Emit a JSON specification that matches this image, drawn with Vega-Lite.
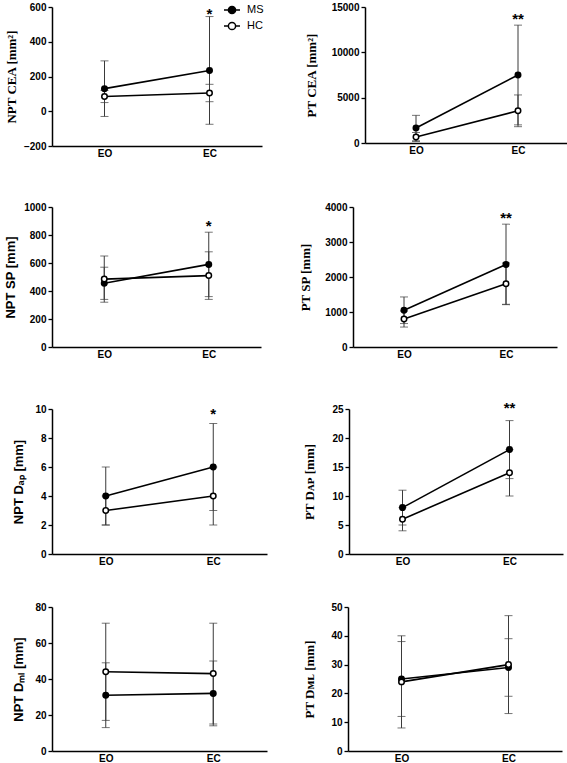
{
  "$schema": "https://vega.github.io/schema/vega-lite/v6.json",
  "background": "white",
  "padding": {"left": 4, "top": 1, "right": 0, "bottom": 0},
  "datasets": {
    "stats": [
      {"panel": "P1", "group": "MS", "cond": "EO", "mean": 130, "lo": -30, "hi": 290},
      {"panel": "P1", "group": "MS", "cond": "EC", "mean": 235, "lo": -75, "hi": 545},
      {"panel": "P1", "group": "HC", "cond": "EO", "mean": 85, "lo": 50, "hi": 120},
      {"panel": "P1", "group": "HC", "cond": "EC", "mean": 105, "lo": 55, "hi": 155},
      {"panel": "P2", "group": "MS", "cond": "EO", "mean": 1650, "lo": 250, "hi": 3050},
      {"panel": "P2", "group": "MS", "cond": "EC", "mean": 7500, "lo": 2000, "hi": 13000},
      {"panel": "P2", "group": "HC", "cond": "EO", "mean": 660, "lo": 160, "hi": 1160},
      {"panel": "P2", "group": "HC", "cond": "EC", "mean": 3550, "lo": 1800, "hi": 5300},
      {"panel": "P3", "group": "MS", "cond": "EO", "mean": 455, "lo": 340, "hi": 570},
      {"panel": "P3", "group": "MS", "cond": "EC", "mean": 590, "lo": 360, "hi": 820},
      {"panel": "P3", "group": "HC", "cond": "EO", "mean": 485, "lo": 320, "hi": 650},
      {"panel": "P3", "group": "HC", "cond": "EC", "mean": 510, "lo": 340, "hi": 680},
      {"panel": "P4", "group": "MS", "cond": "EO", "mean": 1050, "lo": 670, "hi": 1430},
      {"panel": "P4", "group": "MS", "cond": "EC", "mean": 2360, "lo": 1210, "hi": 3510},
      {"panel": "P4", "group": "HC", "cond": "EO", "mean": 800, "lo": 570, "hi": 1030},
      {"panel": "P4", "group": "HC", "cond": "EC", "mean": 1810, "lo": 1220, "hi": 2400},
      {"panel": "P5", "group": "MS", "cond": "EO", "mean": 4, "lo": 2, "hi": 6},
      {"panel": "P5", "group": "MS", "cond": "EC", "mean": 6, "lo": 3, "hi": 9},
      {"panel": "P5", "group": "HC", "cond": "EO", "mean": 3, "lo": 2, "hi": 4},
      {"panel": "P5", "group": "HC", "cond": "EC", "mean": 4, "lo": 2, "hi": 6},
      {"panel": "P6", "group": "MS", "cond": "EO", "mean": 8, "lo": 5, "hi": 11},
      {"panel": "P6", "group": "MS", "cond": "EC", "mean": 18, "lo": 13, "hi": 23},
      {"panel": "P6", "group": "HC", "cond": "EO", "mean": 6, "lo": 4, "hi": 8},
      {"panel": "P6", "group": "HC", "cond": "EC", "mean": 14, "lo": 10, "hi": 18},
      {"panel": "P7", "group": "MS", "cond": "EO", "mean": 31, "lo": 13, "hi": 49},
      {"panel": "P7", "group": "MS", "cond": "EC", "mean": 32, "lo": 14, "hi": 50},
      {"panel": "P7", "group": "HC", "cond": "EO", "mean": 44, "lo": 17, "hi": 71},
      {"panel": "P7", "group": "HC", "cond": "EC", "mean": 43, "lo": 15, "hi": 71},
      {"panel": "P8", "group": "MS", "cond": "EO", "mean": 25, "lo": 12, "hi": 38},
      {"panel": "P8", "group": "MS", "cond": "EC", "mean": 29, "lo": 19, "hi": 39},
      {"panel": "P8", "group": "HC", "cond": "EO", "mean": 24, "lo": 8, "hi": 40},
      {"panel": "P8", "group": "HC", "cond": "EC", "mean": 30, "lo": 13, "hi": 47}
    ],
    "stars": [
      {"panel": "P1", "cond": "EC", "label": "*", "y": 560},
      {"panel": "P2", "cond": "EC", "label": "**", "y": 13640},
      {"panel": "P3", "cond": "EC", "label": "*", "y": 867},
      {"panel": "P4", "cond": "EC", "label": "**", "y": 3675},
      {"panel": "P5", "cond": "EC", "label": "*", "y": 9.63},
      {"panel": "P6", "cond": "EC", "label": "**", "y": 25.23}
    ]
  },
  "columns": 1,
  "align": "none",
  "spacing": 41,
  "resolve": {"scale": {"fill": "independent"}, "legend": {"fill": "independent"}},
  "concat": [
    {
      "columns": 1,
      "align": "none",
      "spacing": 44,
      "resolve": {"scale": {"fill": "independent"}, "legend": {"fill": "independent"}},
      "concat": [
        {
          "hconcat": [
            {
              "width": 210, "height": 139,
              "data": {"name": "stats"},
              "transform": [{"filter": "datum.panel === 'P1'"}],
              "encoding": {"x": {"field": "cond", "type": "nominal", "sort": ["EO", "EC"], "scale": {"type": "point", "padding": 0.5}, "axis": {"title": null}}},
              "layer": [
                {"mark": {"type": "rule", "color": "#3a3a3a", "strokeWidth": 1},
                 "encoding": {"y": {"field": "lo", "type": "quantitative", "title": "NPT CEA [mm²]", "scale": {"domain": [-200, 600], "nice": false}, "axis": {"values": [-200, 0, 200, 400, 600], "labelOverlap": false, "labelSeparation": -60, "titleFont": "Liberation Serif", "titlePadding": 5}}, "y2": {"field": "hi"}}},
                {"mark": {"type": "tick", "color": "#3a3a3a", "thickness": 1, "size": 8, "orient": "horizontal"},
                 "encoding": {"y": {"field": "lo", "type": "quantitative", "title": "NPT CEA [mm²]", "scale": {"domain": [-200, 600], "nice": false}, "axis": {"values": [-200, 0, 200, 400, 600], "labelOverlap": false, "labelSeparation": -60, "titleFont": "Liberation Serif", "titlePadding": 5}}}},
                {"mark": {"type": "tick", "color": "#3a3a3a", "thickness": 1, "size": 8, "orient": "horizontal"},
                 "encoding": {"y": {"field": "hi", "type": "quantitative", "title": "NPT CEA [mm²]", "scale": {"domain": [-200, 600], "nice": false}, "axis": {"values": [-200, 0, 200, 400, 600], "labelOverlap": false, "labelSeparation": -60, "titleFont": "Liberation Serif", "titlePadding": 5}}}},
                {"mark": {"type": "line", "color": "black", "strokeWidth": 1.6},
                 "encoding": {"y": {"field": "mean", "type": "quantitative", "title": "NPT CEA [mm²]", "scale": {"domain": [-200, 600], "nice": false}, "axis": {"values": [-200, 0, 200, 400, 600], "labelOverlap": false, "labelSeparation": -60, "titleFont": "Liberation Serif", "titlePadding": 5}}, "detail": {"field": "group"}}},
                {"mark": {"type": "point", "filled": true, "stroke": "black", "strokeWidth": 1.5, "size": 30, "opacity": 1},
                 "encoding": {"y": {"field": "mean", "type": "quantitative", "title": "NPT CEA [mm²]", "scale": {"domain": [-200, 600], "nice": false}, "axis": {"values": [-200, 0, 200, 400, 600], "labelOverlap": false, "labelSeparation": -60, "titleFont": "Liberation Serif", "titlePadding": 5}},
                   "fill": {"field": "group", "type": "nominal", "scale": {"domain": ["MS", "HC"], "range": ["black", "white"]},
                     "legend": {"orient": "none", "legendX": 171, "legendY": -6, "title": null, "padding": 0, "rowPadding": 0, "labelOffset": 6,
                       "symbolType": "M-1,0H-0.45M0.45,0H1M-0.45,0A0.45,0.45 0 1,1 0.45,0A0.45,0.45 0 1,1 -0.45,0Z",
                       "symbolSize": 256, "symbolStrokeColor": "black", "symbolStrokeWidth": 1.5,
                       "labelFont": "Liberation Sans", "labelFontSize": 11, "labelColor": "black"}}}},
                {"data": {"name": "stars"}, "transform": [{"filter": "datum.panel === 'P1'"}],
                 "mark": {"type": "text", "font": "Liberation Sans", "fontSize": 15, "fontWeight": "bold", "baseline": "middle", "color": "black"},
                 "encoding": {"y": {"field": "y", "type": "quantitative", "title": "NPT CEA [mm²]", "scale": {"domain": [-200, 600], "nice": false}, "axis": {"values": [-200, 0, 200, 400, 600], "labelOverlap": false, "labelSeparation": -60, "titleFont": "Liberation Serif", "titlePadding": 5}}, "text": {"field": "label"}}}
              ]
            },
            {
              "width": 204, "height": 136,
              "data": {"name": "stats"},
              "transform": [{"filter": "datum.panel === 'P2'"}],
              "encoding": {"x": {"field": "cond", "type": "nominal", "sort": ["EO", "EC"], "scale": {"type": "point", "padding": 0.5}, "axis": {"title": null}}},
              "layer": [
                {"mark": {"type": "rule", "color": "#3a3a3a", "strokeWidth": 1},
                 "encoding": {"y": {"field": "lo", "type": "quantitative", "title": "PT CEA [mm²]", "scale": {"domain": [0, 15000], "nice": false}, "axis": {"values": [0, 5000, 10000, 15000], "labelOverlap": false, "labelSeparation": -60, "titleFont": "Liberation Serif", "titlePadding": 13}}, "y2": {"field": "hi"}}},
                {"mark": {"type": "tick", "color": "#3a3a3a", "thickness": 1, "size": 8, "orient": "horizontal"},
                 "encoding": {"y": {"field": "lo", "type": "quantitative", "title": "PT CEA [mm²]", "scale": {"domain": [0, 15000], "nice": false}, "axis": {"values": [0, 5000, 10000, 15000], "labelOverlap": false, "labelSeparation": -60, "titleFont": "Liberation Serif", "titlePadding": 13}}}},
                {"mark": {"type": "tick", "color": "#3a3a3a", "thickness": 1, "size": 8, "orient": "horizontal"},
                 "encoding": {"y": {"field": "hi", "type": "quantitative", "title": "PT CEA [mm²]", "scale": {"domain": [0, 15000], "nice": false}, "axis": {"values": [0, 5000, 10000, 15000], "labelOverlap": false, "labelSeparation": -60, "titleFont": "Liberation Serif", "titlePadding": 13}}}},
                {"mark": {"type": "line", "color": "black", "strokeWidth": 1.6},
                 "encoding": {"y": {"field": "mean", "type": "quantitative", "title": "PT CEA [mm²]", "scale": {"domain": [0, 15000], "nice": false}, "axis": {"values": [0, 5000, 10000, 15000], "labelOverlap": false, "labelSeparation": -60, "titleFont": "Liberation Serif", "titlePadding": 13}}, "detail": {"field": "group"}}},
                {"mark": {"type": "point", "filled": true, "stroke": "black", "strokeWidth": 1.5, "size": 30, "opacity": 1},
                 "encoding": {"y": {"field": "mean", "type": "quantitative", "title": "PT CEA [mm²]", "scale": {"domain": [0, 15000], "nice": false}, "axis": {"values": [0, 5000, 10000, 15000], "labelOverlap": false, "labelSeparation": -60, "titleFont": "Liberation Serif", "titlePadding": 13}},
                   "fill": {"field": "group", "type": "nominal", "scale": {"domain": ["MS", "HC"], "range": ["black", "white"]}, "legend": null}}},
                {"data": {"name": "stars"}, "transform": [{"filter": "datum.panel === 'P2'"}],
                 "mark": {"type": "text", "font": "Liberation Sans", "fontSize": 15, "fontWeight": "bold", "baseline": "middle", "color": "black"},
                 "encoding": {"y": {"field": "y", "type": "quantitative", "title": "PT CEA [mm²]", "scale": {"domain": [0, 15000], "nice": false}, "axis": {"values": [0, 5000, 10000, 15000], "labelOverlap": false, "labelSeparation": -60, "titleFont": "Liberation Serif", "titlePadding": 13}}, "text": {"field": "label"}}}
              ]
            }
          ],
          "spacing": 41,
          "resolve": {"scale": {"fill": "independent"}, "legend": {"fill": "independent"}}
        },
        {
          "hconcat": [
            {
              "width": 209, "height": 140,
              "data": {"name": "stats"},
              "transform": [{"filter": "datum.panel === 'P3'"}],
              "encoding": {"x": {"field": "cond", "type": "nominal", "sort": ["EO", "EC"], "scale": {"type": "point", "padding": 0.5}, "axis": {"title": null}}},
              "layer": [
                {"mark": {"type": "rule", "color": "#3a3a3a", "strokeWidth": 1},
                 "encoding": {"y": {"field": "lo", "type": "quantitative", "title": "NPT SP [mm]", "scale": {"domain": [0, 1000], "nice": false}, "axis": {"values": [0, 200, 400, 600, 800, 1000], "labelOverlap": false, "labelSeparation": -60, "titleFont": "Liberation Sans", "titlePadding": 6}}, "y2": {"field": "hi"}}},
                {"mark": {"type": "tick", "color": "#3a3a3a", "thickness": 1, "size": 8, "orient": "horizontal"},
                 "encoding": {"y": {"field": "lo", "type": "quantitative", "title": "NPT SP [mm]", "scale": {"domain": [0, 1000], "nice": false}, "axis": {"values": [0, 200, 400, 600, 800, 1000], "labelOverlap": false, "labelSeparation": -60, "titleFont": "Liberation Sans", "titlePadding": 6}}}},
                {"mark": {"type": "tick", "color": "#3a3a3a", "thickness": 1, "size": 8, "orient": "horizontal"},
                 "encoding": {"y": {"field": "hi", "type": "quantitative", "title": "NPT SP [mm]", "scale": {"domain": [0, 1000], "nice": false}, "axis": {"values": [0, 200, 400, 600, 800, 1000], "labelOverlap": false, "labelSeparation": -60, "titleFont": "Liberation Sans", "titlePadding": 6}}}},
                {"mark": {"type": "line", "color": "black", "strokeWidth": 1.6},
                 "encoding": {"y": {"field": "mean", "type": "quantitative", "title": "NPT SP [mm]", "scale": {"domain": [0, 1000], "nice": false}, "axis": {"values": [0, 200, 400, 600, 800, 1000], "labelOverlap": false, "labelSeparation": -60, "titleFont": "Liberation Sans", "titlePadding": 6}}, "detail": {"field": "group"}}},
                {"mark": {"type": "point", "filled": true, "stroke": "black", "strokeWidth": 1.5, "size": 30, "opacity": 1},
                 "encoding": {"y": {"field": "mean", "type": "quantitative", "title": "NPT SP [mm]", "scale": {"domain": [0, 1000], "nice": false}, "axis": {"values": [0, 200, 400, 600, 800, 1000], "labelOverlap": false, "labelSeparation": -60, "titleFont": "Liberation Sans", "titlePadding": 6}},
                   "fill": {"field": "group", "type": "nominal", "scale": {"domain": ["MS", "HC"], "range": ["black", "white"]}, "legend": null}}},
                {"data": {"name": "stars"}, "transform": [{"filter": "datum.panel === 'P3'"}],
                 "mark": {"type": "text", "font": "Liberation Sans", "fontSize": 15, "fontWeight": "bold", "baseline": "middle", "color": "black"},
                 "encoding": {"y": {"field": "y", "type": "quantitative", "title": "NPT SP [mm]", "scale": {"domain": [0, 1000], "nice": false}, "axis": {"values": [0, 200, 400, 600, 800, 1000], "labelOverlap": false, "labelSeparation": -60, "titleFont": "Liberation Sans", "titlePadding": 6}}, "text": {"field": "label"}}}
              ]
            },
            {
              "width": 204, "height": 140,
              "data": {"name": "stats"},
              "transform": [{"filter": "datum.panel === 'P4'"}],
              "encoding": {"x": {"field": "cond", "type": "nominal", "sort": ["EO", "EC"], "scale": {"type": "point", "padding": 0.5}, "axis": {"title": null}}},
              "layer": [
                {"mark": {"type": "rule", "color": "#3a3a3a", "strokeWidth": 1},
                 "encoding": {"y": {"field": "lo", "type": "quantitative", "title": "PT SP [mm]", "scale": {"domain": [0, 4000], "nice": false}, "axis": {"values": [0, 1000, 2000, 3000, 4000], "labelOverlap": false, "labelSeparation": -60, "titleFont": "Liberation Serif", "titlePadding": 12}}, "y2": {"field": "hi"}}},
                {"mark": {"type": "tick", "color": "#3a3a3a", "thickness": 1, "size": 8, "orient": "horizontal"},
                 "encoding": {"y": {"field": "lo", "type": "quantitative", "title": "PT SP [mm]", "scale": {"domain": [0, 4000], "nice": false}, "axis": {"values": [0, 1000, 2000, 3000, 4000], "labelOverlap": false, "labelSeparation": -60, "titleFont": "Liberation Serif", "titlePadding": 12}}}},
                {"mark": {"type": "tick", "color": "#3a3a3a", "thickness": 1, "size": 8, "orient": "horizontal"},
                 "encoding": {"y": {"field": "hi", "type": "quantitative", "title": "PT SP [mm]", "scale": {"domain": [0, 4000], "nice": false}, "axis": {"values": [0, 1000, 2000, 3000, 4000], "labelOverlap": false, "labelSeparation": -60, "titleFont": "Liberation Serif", "titlePadding": 12}}}},
                {"mark": {"type": "line", "color": "black", "strokeWidth": 1.6},
                 "encoding": {"y": {"field": "mean", "type": "quantitative", "title": "PT SP [mm]", "scale": {"domain": [0, 4000], "nice": false}, "axis": {"values": [0, 1000, 2000, 3000, 4000], "labelOverlap": false, "labelSeparation": -60, "titleFont": "Liberation Serif", "titlePadding": 12}}, "detail": {"field": "group"}}},
                {"mark": {"type": "point", "filled": true, "stroke": "black", "strokeWidth": 1.5, "size": 30, "opacity": 1},
                 "encoding": {"y": {"field": "mean", "type": "quantitative", "title": "PT SP [mm]", "scale": {"domain": [0, 4000], "nice": false}, "axis": {"values": [0, 1000, 2000, 3000, 4000], "labelOverlap": false, "labelSeparation": -60, "titleFont": "Liberation Serif", "titlePadding": 12}},
                   "fill": {"field": "group", "type": "nominal", "scale": {"domain": ["MS", "HC"], "range": ["black", "white"]}, "legend": null}}},
                {"data": {"name": "stars"}, "transform": [{"filter": "datum.panel === 'P4'"}],
                 "mark": {"type": "text", "font": "Liberation Sans", "fontSize": 15, "fontWeight": "bold", "baseline": "middle", "color": "black"},
                 "encoding": {"y": {"field": "y", "type": "quantitative", "title": "PT SP [mm]", "scale": {"domain": [0, 4000], "nice": false}, "axis": {"values": [0, 1000, 2000, 3000, 4000], "labelOverlap": false, "labelSeparation": -60, "titleFont": "Liberation Serif", "titlePadding": 12}}, "text": {"field": "label"}}}
              ]
            }
          ],
          "spacing": 38,
          "resolve": {"scale": {"fill": "independent"}, "legend": {"fill": "independent"}}
        }
      ]
    },
    {
      "columns": 1,
      "align": "none",
      "spacing": 36,
      "resolve": {"scale": {"fill": "independent"}, "legend": {"fill": "independent"}},
      "concat": [
        {
          "hconcat": [
            {
              "width": 215, "height": 145,
              "data": {"name": "stats"},
              "transform": [{"filter": "datum.panel === 'P5'"}],
              "encoding": {"x": {"field": "cond", "type": "nominal", "sort": ["EO", "EC"], "scale": {"type": "point", "padding": 0.5}, "axis": {"title": null}}},
              "layer": [
                {"mark": {"type": "rule", "color": "#3a3a3a", "strokeWidth": 1},
                 "encoding": {"y": {"field": "lo", "type": "quantitative", "title": "NPT Dₐₚ [mm]", "scale": {"domain": [0, 10], "nice": false}, "axis": {"values": [0, 2, 4, 6, 8, 10], "labelOverlap": false, "labelSeparation": -60, "titleFont": "Liberation Sans", "titlePadding": 9}}, "y2": {"field": "hi"}}},
                {"mark": {"type": "tick", "color": "#3a3a3a", "thickness": 1, "size": 8, "orient": "horizontal"},
                 "encoding": {"y": {"field": "lo", "type": "quantitative", "title": "NPT Dₐₚ [mm]", "scale": {"domain": [0, 10], "nice": false}, "axis": {"values": [0, 2, 4, 6, 8, 10], "labelOverlap": false, "labelSeparation": -60, "titleFont": "Liberation Sans", "titlePadding": 9}}}},
                {"mark": {"type": "tick", "color": "#3a3a3a", "thickness": 1, "size": 8, "orient": "horizontal"},
                 "encoding": {"y": {"field": "hi", "type": "quantitative", "title": "NPT Dₐₚ [mm]", "scale": {"domain": [0, 10], "nice": false}, "axis": {"values": [0, 2, 4, 6, 8, 10], "labelOverlap": false, "labelSeparation": -60, "titleFont": "Liberation Sans", "titlePadding": 9}}}},
                {"mark": {"type": "line", "color": "black", "strokeWidth": 1.6},
                 "encoding": {"y": {"field": "mean", "type": "quantitative", "title": "NPT Dₐₚ [mm]", "scale": {"domain": [0, 10], "nice": false}, "axis": {"values": [0, 2, 4, 6, 8, 10], "labelOverlap": false, "labelSeparation": -60, "titleFont": "Liberation Sans", "titlePadding": 9}}, "detail": {"field": "group"}}},
                {"mark": {"type": "point", "filled": true, "stroke": "black", "strokeWidth": 1.5, "size": 30, "opacity": 1},
                 "encoding": {"y": {"field": "mean", "type": "quantitative", "title": "NPT Dₐₚ [mm]", "scale": {"domain": [0, 10], "nice": false}, "axis": {"values": [0, 2, 4, 6, 8, 10], "labelOverlap": false, "labelSeparation": -60, "titleFont": "Liberation Sans", "titlePadding": 9}},
                   "fill": {"field": "group", "type": "nominal", "scale": {"domain": ["MS", "HC"], "range": ["black", "white"]}, "legend": null}}},
                {"data": {"name": "stars"}, "transform": [{"filter": "datum.panel === 'P5'"}],
                 "mark": {"type": "text", "font": "Liberation Sans", "fontSize": 15, "fontWeight": "bold", "baseline": "middle", "color": "black"},
                 "encoding": {"y": {"field": "y", "type": "quantitative", "title": "NPT Dₐₚ [mm]", "scale": {"domain": [0, 10], "nice": false}, "axis": {"values": [0, 2, 4, 6, 8, 10], "labelOverlap": false, "labelSeparation": -60, "titleFont": "Liberation Sans", "titlePadding": 9}}, "text": {"field": "label"}}}
              ]
            },
            {
              "width": 214, "height": 145,
              "data": {"name": "stats"},
              "transform": [{"filter": "datum.panel === 'P6'"}],
              "encoding": {"x": {"field": "cond", "type": "nominal", "sort": ["EO", "EC"], "scale": {"type": "point", "padding": 0.5}, "axis": {"title": null}}},
              "layer": [
                {"mark": {"type": "rule", "color": "#3a3a3a", "strokeWidth": 1},
                 "encoding": {"y": {"field": "lo", "type": "quantitative", "title": "PT Dᴀᴘ [mm]", "scale": {"domain": [0, 25], "nice": false}, "axis": {"values": [0, 5, 10, 15, 20, 25], "labelOverlap": false, "labelSeparation": -60, "titleFont": "Liberation Serif", "titlePadding": 15}}, "y2": {"field": "hi"}}},
                {"mark": {"type": "tick", "color": "#3a3a3a", "thickness": 1, "size": 8, "orient": "horizontal"},
                 "encoding": {"y": {"field": "lo", "type": "quantitative", "title": "PT Dᴀᴘ [mm]", "scale": {"domain": [0, 25], "nice": false}, "axis": {"values": [0, 5, 10, 15, 20, 25], "labelOverlap": false, "labelSeparation": -60, "titleFont": "Liberation Serif", "titlePadding": 15}}}},
                {"mark": {"type": "tick", "color": "#3a3a3a", "thickness": 1, "size": 8, "orient": "horizontal"},
                 "encoding": {"y": {"field": "hi", "type": "quantitative", "title": "PT Dᴀᴘ [mm]", "scale": {"domain": [0, 25], "nice": false}, "axis": {"values": [0, 5, 10, 15, 20, 25], "labelOverlap": false, "labelSeparation": -60, "titleFont": "Liberation Serif", "titlePadding": 15}}}},
                {"mark": {"type": "line", "color": "black", "strokeWidth": 1.6},
                 "encoding": {"y": {"field": "mean", "type": "quantitative", "title": "PT Dᴀᴘ [mm]", "scale": {"domain": [0, 25], "nice": false}, "axis": {"values": [0, 5, 10, 15, 20, 25], "labelOverlap": false, "labelSeparation": -60, "titleFont": "Liberation Serif", "titlePadding": 15}}, "detail": {"field": "group"}}},
                {"mark": {"type": "point", "filled": true, "stroke": "black", "strokeWidth": 1.5, "size": 30, "opacity": 1},
                 "encoding": {"y": {"field": "mean", "type": "quantitative", "title": "PT Dᴀᴘ [mm]", "scale": {"domain": [0, 25], "nice": false}, "axis": {"values": [0, 5, 10, 15, 20, 25], "labelOverlap": false, "labelSeparation": -60, "titleFont": "Liberation Serif", "titlePadding": 15}},
                   "fill": {"field": "group", "type": "nominal", "scale": {"domain": ["MS", "HC"], "range": ["black", "white"]}, "legend": null}}},
                {"data": {"name": "stars"}, "transform": [{"filter": "datum.panel === 'P6'"}],
                 "mark": {"type": "text", "font": "Liberation Sans", "fontSize": 15, "fontWeight": "bold", "baseline": "middle", "color": "black"},
                 "encoding": {"y": {"field": "y", "type": "quantitative", "title": "PT Dᴀᴘ [mm]", "scale": {"domain": [0, 25], "nice": false}, "axis": {"values": [0, 5, 10, 15, 20, 25], "labelOverlap": false, "labelSeparation": -60, "titleFont": "Liberation Serif", "titlePadding": 15}}, "text": {"field": "label"}}}
              ]
            }
          ],
          "spacing": 36,
          "resolve": {"scale": {"fill": "independent"}, "legend": {"fill": "independent"}}
        },
        {
          "hconcat": [
            {
              "width": 215, "height": 144,
              "data": {"name": "stats"},
              "transform": [{"filter": "datum.panel === 'P7'"}],
              "encoding": {"x": {"field": "cond", "type": "nominal", "sort": ["EO", "EC"], "scale": {"type": "point", "padding": 0.5}, "axis": {"title": null}}},
              "layer": [
                {"mark": {"type": "rule", "color": "#3a3a3a", "strokeWidth": 1},
                 "encoding": {"y": {"field": "lo", "type": "quantitative", "title": "NPT Dₘₗ [mm]", "scale": {"domain": [0, 80], "nice": false}, "axis": {"values": [0, 20, 40, 60, 80], "labelOverlap": false, "labelSeparation": -60, "titleFont": "Liberation Sans", "titlePadding": 9}}, "y2": {"field": "hi"}}},
                {"mark": {"type": "tick", "color": "#3a3a3a", "thickness": 1, "size": 8, "orient": "horizontal"},
                 "encoding": {"y": {"field": "lo", "type": "quantitative", "title": "NPT Dₘₗ [mm]", "scale": {"domain": [0, 80], "nice": false}, "axis": {"values": [0, 20, 40, 60, 80], "labelOverlap": false, "labelSeparation": -60, "titleFont": "Liberation Sans", "titlePadding": 9}}}},
                {"mark": {"type": "tick", "color": "#3a3a3a", "thickness": 1, "size": 8, "orient": "horizontal"},
                 "encoding": {"y": {"field": "hi", "type": "quantitative", "title": "NPT Dₘₗ [mm]", "scale": {"domain": [0, 80], "nice": false}, "axis": {"values": [0, 20, 40, 60, 80], "labelOverlap": false, "labelSeparation": -60, "titleFont": "Liberation Sans", "titlePadding": 9}}}},
                {"mark": {"type": "line", "color": "black", "strokeWidth": 1.6},
                 "encoding": {"y": {"field": "mean", "type": "quantitative", "title": "NPT Dₘₗ [mm]", "scale": {"domain": [0, 80], "nice": false}, "axis": {"values": [0, 20, 40, 60, 80], "labelOverlap": false, "labelSeparation": -60, "titleFont": "Liberation Sans", "titlePadding": 9}}, "detail": {"field": "group"}}},
                {"mark": {"type": "point", "filled": true, "stroke": "black", "strokeWidth": 1.5, "size": 30, "opacity": 1},
                 "encoding": {"y": {"field": "mean", "type": "quantitative", "title": "NPT Dₘₗ [mm]", "scale": {"domain": [0, 80], "nice": false}, "axis": {"values": [0, 20, 40, 60, 80], "labelOverlap": false, "labelSeparation": -60, "titleFont": "Liberation Sans", "titlePadding": 9}},
                   "fill": {"field": "group", "type": "nominal", "scale": {"domain": ["MS", "HC"], "range": ["black", "white"]}, "legend": null}}}
              ]
            },
            {
              "width": 214, "height": 144,
              "data": {"name": "stats"},
              "transform": [{"filter": "datum.panel === 'P8'"}],
              "encoding": {"x": {"field": "cond", "type": "nominal", "sort": ["EO", "EC"], "scale": {"type": "point", "padding": 0.5}, "axis": {"title": null}}},
              "layer": [
                {"mark": {"type": "rule", "color": "#3a3a3a", "strokeWidth": 1},
                 "encoding": {"y": {"field": "lo", "type": "quantitative", "title": "PT Dᴍʟ [mm]", "scale": {"domain": [0, 50], "nice": false}, "axis": {"values": [0, 10, 20, 30, 40, 50], "labelOverlap": false, "labelSeparation": -60, "titleFont": "Liberation Serif", "titlePadding": 14}}, "y2": {"field": "hi"}}},
                {"mark": {"type": "tick", "color": "#3a3a3a", "thickness": 1, "size": 8, "orient": "horizontal"},
                 "encoding": {"y": {"field": "lo", "type": "quantitative", "title": "PT Dᴍʟ [mm]", "scale": {"domain": [0, 50], "nice": false}, "axis": {"values": [0, 10, 20, 30, 40, 50], "labelOverlap": false, "labelSeparation": -60, "titleFont": "Liberation Serif", "titlePadding": 14}}}},
                {"mark": {"type": "tick", "color": "#3a3a3a", "thickness": 1, "size": 8, "orient": "horizontal"},
                 "encoding": {"y": {"field": "hi", "type": "quantitative", "title": "PT Dᴍʟ [mm]", "scale": {"domain": [0, 50], "nice": false}, "axis": {"values": [0, 10, 20, 30, 40, 50], "labelOverlap": false, "labelSeparation": -60, "titleFont": "Liberation Serif", "titlePadding": 14}}}},
                {"mark": {"type": "line", "color": "black", "strokeWidth": 1.6},
                 "encoding": {"y": {"field": "mean", "type": "quantitative", "title": "PT Dᴍʟ [mm]", "scale": {"domain": [0, 50], "nice": false}, "axis": {"values": [0, 10, 20, 30, 40, 50], "labelOverlap": false, "labelSeparation": -60, "titleFont": "Liberation Serif", "titlePadding": 14}}, "detail": {"field": "group"}}},
                {"mark": {"type": "point", "filled": true, "stroke": "black", "strokeWidth": 1.5, "size": 30, "opacity": 1},
                 "encoding": {"y": {"field": "mean", "type": "quantitative", "title": "PT Dᴍʟ [mm]", "scale": {"domain": [0, 50], "nice": false}, "axis": {"values": [0, 10, 20, 30, 40, 50], "labelOverlap": false, "labelSeparation": -60, "titleFont": "Liberation Serif", "titlePadding": 14}},
                   "fill": {"field": "group", "type": "nominal", "scale": {"domain": ["MS", "HC"], "range": ["black", "white"]}, "legend": null}}}
              ]
            }
          ],
          "spacing": 36,
          "resolve": {"scale": {"fill": "independent"}, "legend": {"fill": "independent"}}
        }
      ]
    }
  ],
  "config": {
    "view": {"stroke": null},
    "axis": {"grid": false, "domainColor": "black", "domainWidth": 1.5, "tickColor": "black", "tickWidth": 1.3,
      "labelFont": "Liberation Sans", "labelFontWeight": "bold", "labelColor": "black", "labelFontSize": 10,
      "titleColor": "black", "titleFontWeight": "bold", "titleFontSize": 13},
    "axisX": {"ticks": false, "labelAngle": 0, "labelPadding": 2},
    "axisY": {"tickSize": 4, "labelPadding": 2, "format": "d"}
  }
}
